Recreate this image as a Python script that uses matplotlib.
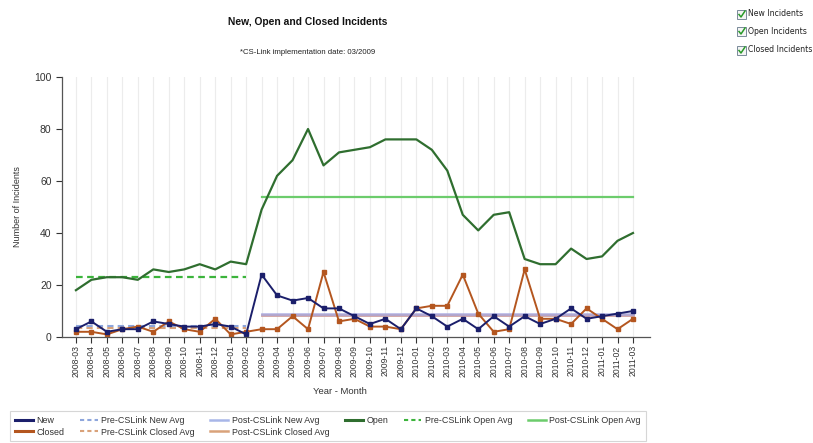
import matplotlib
matplotlib.use("Agg")
import matplotlib.pyplot as plt
from matplotlib.patches import Rectangle
from matplotlib.lines import Line2D

months = ["2008-03", "2008-04", "2008-05", "2008-06", "2008-07", "2008-08", "2008-09",
          "2008-10", "2008-11", "2008-12", "2009-01", "2009-02", "2009-03", "2009-04",
          "2009-05", "2009-06", "2009-07", "2009-08", "2009-09", "2009-10", "2009-11",
          "2009-12", "2010-01", "2010-02", "2010-03", "2010-04", "2010-05", "2010-06",
          "2010-07", "2010-08", "2010-09", "2010-10", "2010-11", "2010-12", "2011-01",
          "2011-02", "2011-03"]

new_vals = [3, 6, 2, 3, 3, 6, 5, 4, 4, 5, 4, 1,
            24, 16, 14, 15, 11, 11, 8, 5, 7, 3, 11, 8, 4, 7, 3, 8, 4, 8, 5, 7, 11, 7, 8, 9, 10]
closed_vals = [2, 2, 1, 3, 4, 2, 6, 3, 2, 7, 1, 2,
               3, 3, 8, 3, 25, 6, 7, 4, 4, 3, 11, 12, 12, 24, 9, 2, 3, 26, 7, 7, 5, 11, 7, 3, 7]
open_vals = [18, 22, 23, 23, 22, 26, 25, 26, 28, 26, 29, 28,
             49, 62, 68, 80, 66, 71, 72, 73, 76, 76, 76, 72, 64, 47, 41, 47, 48, 30, 28, 28,
             34, 30, 31, 37, 40]

pre_new_avg = 4.2
post_new_avg = 8.9
pre_closed_avg = 3.3
post_closed_avg = 8.6
pre_open_avg = 23.0
post_open_avg = 54.0
cutover_index = 12  # 2009-03

FONT = ["Liberation Sans Narrow", "Liberation Sans", "DejaVu Sans"]
plt.rcParams["font.family"] = FONT

fig = plt.figure(figsize=(8.13, 4.43), dpi=100)
ax = fig.add_axes([62 / 813, 1 - 337 / 443, (650 - 62) / 813, (337 - 77) / 443])

x = list(range(len(months)))
pre_x = [0, cutover_index - 1]
post_x = [cutover_index, len(months) - 1]

# vertical grid
ax.set_xticks(x)
ax.grid(axis="x", color="#ececec", linewidth=0.8)
ax.set_axisbelow(True)

c_new = "#1b1f6b"
c_closed = "#b4561f"
c_open = "#2f6e2f"
c_new_avg = "#8ea6dc"
c_closed_avg = "#d9a27a"
c_open_pre = "#3cb43c"
c_open_post = "#6ccc6c"

ax.plot(post_x, [post_closed_avg] * 2, color="#cfa0a0", lw=2.0)
ax.plot(post_x, [post_new_avg] * 2, color="#a6a8e0", lw=2.0, alpha=0.75)
ax.plot(pre_x, [pre_closed_avg] * 2, color=c_closed_avg, lw=1.5, ls=(0, (3, 2)))
ax.plot(pre_x, [pre_new_avg] * 2, color=c_new_avg, lw=1.5, ls=(0, (3, 2)))
ax.plot(pre_x, [pre_open_avg] * 2, color=c_open_pre, lw=1.6, ls=(0, (3, 2)))
ax.plot(post_x, [post_open_avg] * 2, color=c_open_post, lw=1.6)

ax.plot(x, open_vals, color=c_open, lw=1.6)
ax.plot(x, closed_vals, color=c_closed, lw=1.4, marker="s", ms=3)
ax.plot(x, new_vals, color=c_new, lw=1.4, marker="s", ms=3)

ax.set_xlim(-0.9, 37.1)
ax.set_ylim(0, 100)
ax.set_yticks([0, 20, 40, 60, 80, 100])
ax.set_xticklabels(months, rotation=90, fontsize=6.2, color="#333333")
ax.tick_params(axis="y", labelsize=7.5, colors="#333333", length=4, width=0.8)
ax.tick_params(axis="x", length=4, width=0.8, pad=2, colors="#333333")
for s in ["top", "right"]:
    ax.spines[s].set_visible(False)
for s in ["left", "bottom"]:
    ax.spines[s].set_color("#555555")
    ax.spines[s].set_linewidth(0.9)

ax.set_ylabel("Number of Incidents", fontsize=6.5, color="#333333")
ax.yaxis.set_label_coords(-40 / 588, 0.5)
fig.text(340 / 813, 1 - 392 / 443, "Year - Month", fontsize=6.8, color="#333333",
         ha="center", va="center")

fig.text(308 / 813, 1 - 22 / 443, "New, Open and Closed Incidents", fontsize=7.4,
         fontweight="bold", ha="center", va="center", color="#111111")
fig.text(308 / 813, 1 - 52 / 443, "*CS-Link implementation date: 03/2009", fontsize=5.6,
         ha="center", va="center", color="#222222")

# legend
handles = [
    Line2D([], [], color=c_new, lw=2.2),
    Line2D([], [], color=c_closed, lw=2.2),
    Line2D([], [], color=c_new_avg, lw=1.5, ls=(0, (2, 1.5))),
    Line2D([], [], color=c_closed_avg, lw=1.5, ls=(0, (2, 1.5))),
    Line2D([], [], color="#a8b6e8", lw=1.8),
    Line2D([], [], color=c_closed_avg, lw=1.8),
    Line2D([], [], color=c_open, lw=2.2),
    Line2D([], [], color=c_open_pre, lw=1.5, ls=(0, (2, 1.5))),
    Line2D([], [], color=c_open_post, lw=1.8),
]
labels = ["New", "Closed", "Pre-CSLink New Avg", "Pre-CSLink Closed Avg",
          "Post-CSLink New Avg", "Post-CSLink Closed Avg", "Open",
          "Pre-CSLink Open Avg", "Post-CSLink Open Avg"]
leg = fig.legend(handles, labels, ncol=6, loc="upper left",
                 bbox_to_anchor=(10 / 813, 1 - 411 / 443), fontsize=6.4,
                 frameon=True, fancybox=False, handlelength=2.0, handletextpad=0.4,
                 columnspacing=1.75, labelspacing=0.3, borderpad=0.55,
                 borderaxespad=0)
leg.get_frame().set_edgecolor("#cccccc")
leg.get_frame().set_linewidth(0.8)
for t in leg.get_texts():
    t.set_color("#333333")

# checkboxes
cb_labels = ["New Incidents", "Open Incidents", "Closed Incidents"]
cb_y = [14, 31, 50]
for lab, yy in zip(cb_labels, cb_y):
    fig.patches.append(Rectangle((737 / 813, 1 - (yy + 5) / 443), 9 / 813, 9 / 443,
                                 transform=fig.transFigure, facecolor="#f4f4f4",
                                 edgecolor="#7a8a9a", lw=0.7))
    fig.lines.append(Line2D([739 / 813, 741 / 813, 745 / 813],
                            [1 - (yy + 0.5) / 443, 1 - (yy + 3) / 443, 1 - (yy - 3) / 443],
                            transform=fig.transFigure, color="#2a9a2a", lw=1.1))
    fig.text(748 / 813, 1 - yy / 443, lab, fontsize=5.6, family="DejaVu Sans",
             ha="left", va="center", color="#222222")

fig.savefig("out.png", dpi=100)
